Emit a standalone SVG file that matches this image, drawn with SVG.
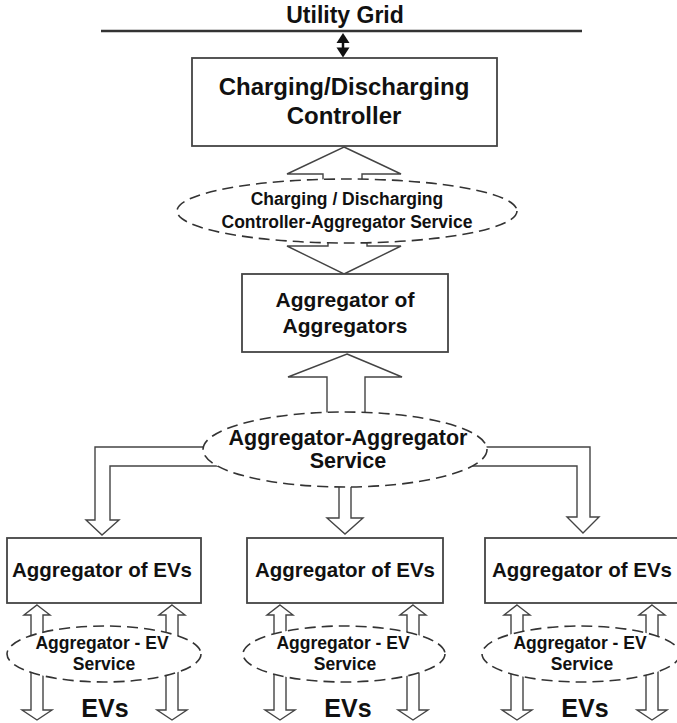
<svg xmlns="http://www.w3.org/2000/svg" width="677" height="723" viewBox="0 0 677 723">
<defs>
<style>
.box{fill:#fff;stroke:#444;stroke-width:1.8}
.svc{fill:#fff;stroke:#333;stroke-width:1.6;stroke-dasharray:11 6}
.arr{fill:#fff;stroke:#444;stroke-width:1.4;stroke-linejoin:miter}
.head{fill:#111}
.t{font-family:"Liberation Sans",Arial,sans-serif;font-weight:bold;fill:#111;text-anchor:middle}
</style>
</defs>
<rect width="677" height="723" fill="#fff"/>

<g id="utility-grid">
<line x1="101" y1="31" x2="582" y2="31" stroke="#333" stroke-width="2.5"/>
<text class="t" x="345" y="23" font-size="23">Utility Grid</text>
</g>

<g id="connectors">
<g id="grid-link">
<line x1="343" y1="38" x2="343" y2="52" stroke="#111" stroke-width="2.5"/>
<polygon class="head" points="343,33 336.5,43 349.5,43"/>
<polygon class="head" points="343,57.5 336.5,47.5 349.5,47.5"/>
</g>
<path class="arr" d="M344,147 L401,174 L362,174 L362,200 L323,200 L323,174 L287,174 Z"/>
<path class="arr" d="M344,274 L401,246 L367,246 L367,225 L328,225 L328,246 L287,246 Z"/>
<path class="arr" d="M347,354 L402,377 L365,377 L365,430 L327,430 L327,377 L288,377 Z"/>
<path class="arr" d="M345,447 L95,447 L95,520 L86,520 L102,535 L119,520 L110,520 L110,466 L345,466 Z"/>
<path class="arr" d="M345,447 L590,447 L590,517 L599,517 L583,533 L567,517 L577,517 L577,466 L345,466 Z"/>
<path class="arr" d="M339,470 L351,470 L351,518 L363,518 L345,534 L327,518 L339,518 Z"/>
<path class="arr" d="M37,605 L50,615 L43,615 L43,710 L52,710 L37,720 L22,710 L31,710 L31,615 L24,615 Z"/>
<path class="arr" d="M172,605 L185,615 L178,615 L178,710 L187,710 L172,720 L157,710 L166,710 L166,615 L159,615 Z"/>
<path class="arr" d="M280,605 L293,615 L286,615 L286,710 L295,710 L280,720 L265,710 L274,710 L274,615 L267,615 Z"/>
<path class="arr" d="M413,605 L426,615 L419,615 L419,710 L428,710 L413,720 L398,710 L407,710 L407,615 L400,615 Z"/>
<path class="arr" d="M517,605 L530,615 L523,615 L523,710 L532,710 L517,720 L502,710 L511,710 L511,615 L504,615 Z"/>
<path class="arr" d="M652,605 L665,615 L658,615 L658,710 L667,710 L652,720 L637,710 L646,710 L646,615 L639,615 Z"/>
</g>

<g id="controller">
<rect class="box" x="192" y="58" width="305" height="88"/>
<text class="t" x="344" y="95" font-size="24">Charging/Discharging</text>
<text class="t" x="344" y="124" font-size="24">Controller</text>
</g>

<g id="controller-aggregator-service">
<ellipse class="svc" cx="347" cy="211" rx="170" ry="32"/>
<text class="t" x="347" y="205" font-size="17.5">Charging / Discharging</text>
<text class="t" x="347" y="228" font-size="17.5">Controller-Aggregator Service</text>
</g>

<g id="aggregator-of-aggregators">
<rect class="box" x="242" y="274" width="206" height="78"/>
<text class="t" x="345" y="307" font-size="21">Aggregator of</text>
<text class="t" x="345" y="333" font-size="21">Aggregators</text>
</g>

<g id="aggregator-aggregator-service">
<ellipse class="svc" cx="345" cy="449.5" rx="142" ry="37.5"/>
<text class="t" x="348" y="445" font-size="21.5">Aggregator-Aggregator</text>
<text class="t" x="348" y="468" font-size="21.5">Service</text>
</g>

<g id="aggregator-evs-1">
<rect class="box" x="7" y="538" width="194" height="65"/>
<text class="t" x="102" y="577" font-size="20.5">Aggregator of EVs</text>
</g>
<g id="aggregator-evs-2">
<rect class="box" x="247" y="538" width="196" height="65"/>
<text class="t" x="345" y="577" font-size="20.5">Aggregator of EVs</text>
</g>
<g id="aggregator-evs-3">
<rect class="box" x="485" y="538" width="200" height="65"/>
<text class="t" x="582" y="577" font-size="20.5">Aggregator of EVs</text>
</g>

<g id="aggregator-ev-service-1">
<ellipse class="svc" cx="104" cy="654" rx="97" ry="28"/>
<text class="t" x="102" y="649" font-size="17.5">Aggregator - EV</text>
<text class="t" x="104" y="670" font-size="17.5">Service</text>
</g>
<g id="aggregator-ev-service-2">
<ellipse class="svc" cx="344" cy="654" rx="101" ry="28"/>
<text class="t" x="343" y="649" font-size="17.5">Aggregator - EV</text>
<text class="t" x="345" y="670" font-size="17.5">Service</text>
</g>
<g id="aggregator-ev-service-3">
<ellipse class="svc" cx="581" cy="654" rx="99" ry="28"/>
<text class="t" x="580" y="649" font-size="17.5">Aggregator - EV</text>
<text class="t" x="582" y="670" font-size="17.5">Service</text>
</g>

<g id="evs-1"><text class="t" x="105" y="717" font-size="25">EVs</text></g>
<g id="evs-2"><text class="t" x="348" y="717" font-size="25">EVs</text></g>
<g id="evs-3"><text class="t" x="585" y="717" font-size="25">EVs</text></g>
</svg>
